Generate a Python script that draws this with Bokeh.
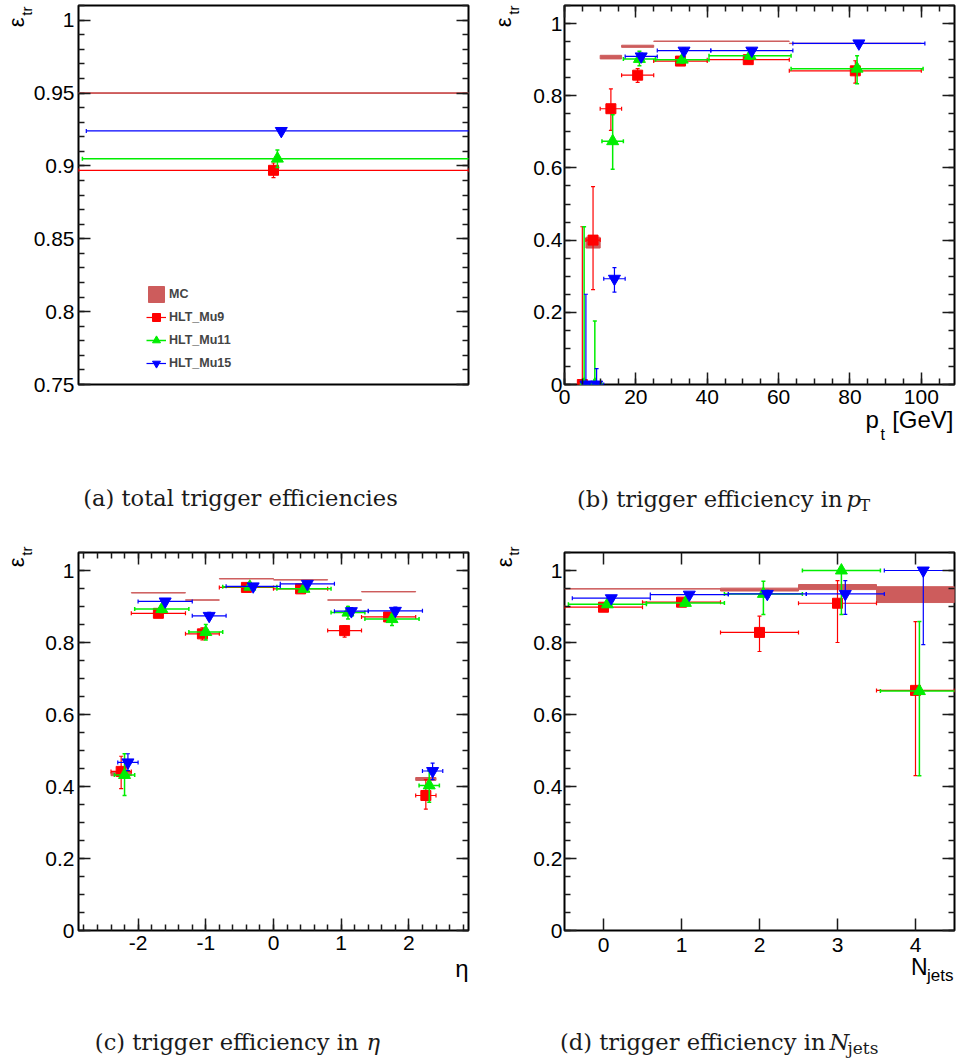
import numpy as np
from math import pi
from bokeh.plotting import figure
from bokeh.models import (Range1d, LinearAxis, SingleIntervalTicker, CustomJSTickFormatter,
                          ColumnDataSource, Legend, LegendItem, GridBox)
from bokeh.core.properties import value
from bokeh.embed import file_html
from bokeh.resources import INLINE

# ------------------------------------------------------------------ data
series_names = ["HLT_Mu9", "HLT_Mu11", "HLT_Mu15"]
series_colors = ["#ff0000", "#00ee00", "#0000ff"]
series_markers = ["square", "triangle", "inverted_triangle"]
mc_color = "#cd5c5c"

# (a) total trigger efficiency (one bin)
tot_lo = [0.0]
tot_hi = [1.0]
tot_shift = [0.0, 0.01, 0.02]
tot_mc = [0.950]
tot_mc_err = [0.0003]
tot_mu9 = [0.897]
tot_mu9_up = [0.005]
tot_mu9_dn = [0.005]
tot_mu11 = [0.905]
tot_mu11_up = [0.006]
tot_mu11_dn = [0.006]
tot_mu15 = [0.924]
tot_mu15_up = [0.002]
tot_mu15_dn = [0.002]

# (b) efficiency vs pT [GeV]
pt_lo = [4, 6, 10, 16, 25, 40, 63]
pt_hi = [6, 10, 16, 25, 40, 63, 100]
pt_shift = [0.0, 0.5, 1.0]
pt_mc_lo = [6, 10, 16, 25, 40, 63]
pt_mc_hi = [10, 16, 25, 40, 63, 100]
pt_mc = [0.393, 0.907, 0.937, 0.951, 0.951, 0.945]
pt_mc_err = [0.015, 0.005, 0.003, 0.0005, 0.0005, 0.0005]
pt_mu9 = [0.0, 0.400, 0.764, 0.857, 0.896, 0.900, 0.869]
pt_mu9_up = [0.437, 0.148, 0.055, 0.018, 0.008, 0.008, 0.028]
pt_mu9_dn = [0.0, 0.137, 0.060, 0.020, 0.008, 0.008, 0.034]
pt_mu11 = [0.0, 0.0, 0.674, 0.902, 0.900, 0.911, 0.875]
pt_mu11_up = [0.437, 0.176, 0.073, 0.021, 0.009, 0.009, 0.036]
pt_mu11_dn = [0.0, 0.0, 0.078, 0.019, 0.009, 0.009, 0.042]
pt_mu15 = [0.0, 0.0, 0.293, 0.909, 0.925, 0.925, 0.945]
pt_mu15_up = [0.250, 0.044, 0.031, 0.009, 0.007, 0.007, 0.007]
pt_mu15_dn = [0.0, 0.0, 0.037, 0.009, 0.007, 0.007, 0.007]

# (c) efficiency vs eta
eta_lo = [-2.4, -2.1, -1.3, -0.8, 0.0, 0.8, 1.3, 2.1]
eta_hi = [-2.1, -1.3, -0.8, 0.0, 0.8, 1.3, 2.1, 2.4]
eta_shift = [0.0, 0.05, 0.10]
eta_mc = [0.435, 0.938, 0.918, 0.977, 0.974, 0.918, 0.941, 0.421]
eta_mc_err = [0.005, 0.0005, 0.0005, 0.0005, 0.0005, 0.0005, 0.0005, 0.004]
eta_mu9 = [0.442, 0.881, 0.824, 0.953, 0.949, 0.833, 0.871, 0.375]
eta_mu9_up = [0.042, 0.008, 0.017, 0.006, 0.006, 0.014, 0.010, 0.044]
eta_mu9_dn = [0.048, 0.008, 0.017, 0.006, 0.006, 0.018, 0.010, 0.038]
eta_mu11 = [0.432, 0.893, 0.829, 0.955, 0.949, 0.883, 0.865, 0.403]
eta_mu11_up = [0.059, 0.010, 0.021, 0.006, 0.006, 0.017, 0.013, 0.041]
eta_mu11_dn = [0.057, 0.010, 0.022, 0.006, 0.006, 0.018, 0.018, 0.047]
eta_mu15 = [0.467, 0.914, 0.874, 0.956, 0.963, 0.887, 0.888, 0.443]
eta_mu15_up = [0.024, 0.008, 0.010, 0.005, 0.005, 0.010, 0.010, 0.022]
eta_mu15_dn = [0.023, 0.008, 0.010, 0.005, 0.005, 0.010, 0.010, 0.024]

# (d) efficiency vs number of jets
nj_lo = [-0.5, 0.5, 1.5, 2.5, 3.5]
nj_hi = [0.5, 1.5, 2.5, 3.5, 4.5]
nj_shift = [0.0, 0.05, 0.10]
nj_mc = [0.949, 0.949, 0.947, 0.954, 0.933]
nj_mc_err = [0.0005, 0.0005, 0.004, 0.007, 0.022]
nj_mu9 = [0.898, 0.912, 0.828, 0.909, 0.667]
nj_mu9_up = [0.006, 0.006, 0.045, 0.063, 0.191]
nj_mu9_dn = [0.006, 0.006, 0.053, 0.109, 0.237]
nj_mu11 = [0.906, 0.910, 0.935, 1.000, 0.665]
nj_mu11_up = [0.006, 0.008, 0.035, 0.0, 0.193]
nj_mu11_dn = [0.006, 0.008, 0.057, 0.122, 0.235]
nj_mu15 = [0.923, 0.933, 0.935, 0.935, 1.000]
nj_mu15_up = [0.005, 0.005, 0.010, 0.037, 0.0]
nj_mu15_dn = [0.005, 0.005, 0.010, 0.057, 0.206]

# ------------------------------------------------------------------ helpers
TICK_FONT = "Liberation Sans"
FMT_CODE = "return String(Number(tick.toFixed(4)));"


def style_axis(ax, ticker, labels, standoff=4, major=12, minor=6):
    ax.ticker = ticker
    ax.formatter = CustomJSTickFormatter(code=FMT_CODE)
    ax.major_tick_in = major
    ax.major_tick_out = 0
    ax.minor_tick_in = minor
    ax.minor_tick_out = 0
    ax.axis_line_color = None
    ax.major_tick_line_color = "#1a1a1a"
    ax.minor_tick_line_color = "#1a1a1a"
    ax.major_tick_line_width = 1.5
    ax.minor_tick_line_width = 1.5
    if labels:
        ax.major_label_text_font = TICK_FONT
        ax.major_label_text_font_size = "21px"
        ax.major_label_text_color = "black"
        ax.major_label_standoff = standoff
    else:
        ax.major_label_text_font_size = "0px"
        ax.major_label_standoff = 0


def make_fig(xr, yr, borders, xticker, yticker, show_x=True, ystd=4, xstd=5):
    l, r, t, b = borders
    p = figure(width=480, height=531, x_range=Range1d(*xr), y_range=Range1d(*yr),
               output_backend="svg", toolbar_location=None, tools="",
               min_border_left=l, min_border_right=r, min_border_top=t, min_border_bottom=b)
    p.xgrid.visible = False
    p.ygrid.visible = False
    p.outline_line_color = "black"
    p.outline_line_width = 2
    p.background_fill_color = "white"
    p.border_fill_color = "white"
    style_axis(p.yaxis[0], yticker, True, ystd)
    ry = LinearAxis()
    style_axis(ry, yticker, False)
    p.add_layout(ry, "right")
    if show_x:
        style_axis(p.xaxis[0], xticker, True, xstd)
        tx = LinearAxis()
        style_axis(tx, xticker, False)
        p.add_layout(tx, "above")
    else:
        p.xaxis[0].visible = False
    return p


def add_mc(p, lo, hi, val, err):
    val = np.asarray(val, float)
    err = np.asarray(err, float)
    src = ColumnDataSource(dict(left=lo, right=hi, bottom=val - err, top=val + err))
    return p.quad(left="left", right="right", bottom="bottom", top="top", source=src,
                  fill_color=mc_color, line_color=mc_color, line_width=1)


def add_series(p, lo, hi, shift, y, up, dn, color, marker, lw):
    lo = np.asarray(lo, float) + shift
    hi = np.asarray(hi, float) + shift
    y = np.asarray(y, float)
    src = ColumnDataSource(dict(x=(lo + hi) / 2, lo=lo, hi=hi, y=y,
                                top=y + np.asarray(up, float), bot=y - np.asarray(dn, float)))
    hr = p.segment(x0="lo", y0="y", x1="hi", y1="y", source=src, line_color=color, line_width=lw)
    p.segment(x0="x", y0="bot", x1="x", y1="top", source=src, line_color=color, line_width=lw)
    for cx, cy, ang in (("lo", "y", pi / 2), ("hi", "y", pi / 2), ("x", "top", 0.0), ("x", "bot", 0.0)):
        p.scatter(x=cx, y=cy, source=src, marker="dash", angle=ang, size=4,
                  line_color=color, line_width=lw)
    size = 10 if marker == "square" else 12
    mr = p.scatter(x="x", y="y", source=src, marker=marker, size=size,
                   fill_color=color, line_color=color)
    return hr, mr


def fill_panel(p, lo, hi, shifts, mc_lo, mc_hi, mc, mc_err, vals, ups, dns):
    mc_r = add_mc(p, mc_lo, mc_hi, mc, mc_err)
    out = []
    for k in range(3):
        out.append(add_series(p, lo, hi, shifts[k], vals[k], ups[k], dns[k],
                              series_colors[k], series_markers[k], 1.5 if k == 1 else 1.2))
    return mc_r, out


# ------------------------------------------------------------------ (a)
pa = make_fig((0.0, 1.0), (0.75, 1.0101), (78, 12, 5, 147), None,
              SingleIntervalTicker(interval=0.05, num_minor_ticks=5), show_x=False, ystd=4)
mc_r, ser = fill_panel(pa, tot_lo, tot_hi, tot_shift, tot_lo, tot_hi, tot_mc, tot_mc_err,
                       [tot_mu9, tot_mu11, tot_mu15], [tot_mu9_up, tot_mu11_up, tot_mu15_up],
                       [tot_mu9_dn, tot_mu11_dn, tot_mu15_dn])
items = [LegendItem(label="MC", renderers=[mc_r])]
for k in range(3):
    items.append(LegendItem(label=series_names[k], renderers=list(ser[k])))
leg = Legend(items=items, location=(68, 11), glyph_width=20, glyph_height=20, spacing=3,
             padding=0, margin=0, border_line_color=None, background_fill_alpha=0,
             label_text_font="Liberation Sans", label_text_font_style="bold",
             label_text_font_size="12.5px", label_standoff=3)
pa.add_layout(leg)

# ------------------------------------------------------------------ (b)
pb = make_fig((0.0, 109.3), (0.0, 1.05), (83, 6, 5, 147),
              SingleIntervalTicker(interval=20, num_minor_ticks=4),
              SingleIntervalTicker(interval=0.2, num_minor_ticks=4), ystd=2, xstd=5)
fill_panel(pb, pt_lo, pt_hi, pt_shift, pt_mc_lo, pt_mc_hi, pt_mc, pt_mc_err,
           [pt_mu9, pt_mu11, pt_mu15], [pt_mu9_up, pt_mu11_up, pt_mu15_up],
           [pt_mu9_dn, pt_mu11_dn, pt_mu15_dn])

# ------------------------------------------------------------------ (c)
pc = make_fig((-2.88, 2.88), (0.0, 1.05), (78, 12, 21, 132),
              SingleIntervalTicker(interval=1, num_minor_ticks=5),
              SingleIntervalTicker(interval=0.2, num_minor_ticks=4), ystd=4, xstd=5)
fill_panel(pc, eta_lo, eta_hi, eta_shift, eta_lo, eta_hi, eta_mc, eta_mc_err,
           [eta_mu9, eta_mu11, eta_mu15], [eta_mu9_up, eta_mu11_up, eta_mu15_up],
           [eta_mu9_dn, eta_mu11_dn, eta_mu15_dn])

# ------------------------------------------------------------------ (d)
pd_ = make_fig((-0.5, 4.5), (0.0, 1.05), (84, 6, 21, 132),
               SingleIntervalTicker(interval=1, num_minor_ticks=0),
               SingleIntervalTicker(interval=0.2, num_minor_ticks=4), ystd=2, xstd=7)
fill_panel(pd_, nj_lo, nj_hi, nj_shift, nj_lo, nj_hi, nj_mc, nj_mc_err,
           [nj_mu9, nj_mu11, nj_mu15], [nj_mu9_up, nj_mu11_up, nj_mu15_up],
           [nj_mu9_dn, nj_mu11_dn, nj_mu15_dn])

# ------------------------------------------------------------------ text overlay (page pixels)
ov = figure(width=960, height=1062, x_range=Range1d(0, 960), y_range=Range1d(1062, 0),
            output_backend="svg", toolbar_location=None, tools="",
            x_axis_type=None, y_axis_type=None,
            min_border_left=0, min_border_right=0, min_border_top=0, min_border_bottom=0)
ov.frame_align = False
ov.xgrid.visible = False
ov.ygrid.visible = False
ov.outline_line_color = None
ov.background_fill_color = None
ov.border_fill_color = None

SANS = "Liberation Sans"
SERIF = "DejaVu Serif"
CAPC = "#1a1a1a"
CS = 22.6
BASE_CORR = 0.27  # baseline correction, in em
# (text, x, y, size, font, style, align, angle)
texts = [
    # y-axis titles (rotated)
    ("ε", 22, 17, 22, SANS, "normal", "right", pi / 2),
    ("tr", 30, 6, 15, SANS, "normal", "right", pi / 2),
    ("ε", 509, 17, 22, SANS, "normal", "right", pi / 2),
    ("tr", 517, 5, 15, SANS, "normal", "right", pi / 2),
    ("ε", 22, 557, 22, SANS, "normal", "right", pi / 2),
    ("tr", 30, 546, 15, SANS, "normal", "right", pi / 2),
    ("ε", 510, 557, 22, SANS, "normal", "right", pi / 2),
    ("tr", 517, 546, 15, SANS, "normal", "right", pi / 2),
    # x-axis titles
    ("[GeV]", 953, 425, 24, SANS, "normal", "right", 0.0),
    ("p", 865, 425, 24, SANS, "normal", "left", 0.0),
    ("t", 880, 438, 16, SANS, "normal", "left", 0.0),
    ("η", 468, 974, 24, SANS, "normal", "right", 0.0),
    ("N", 927, 973, 23, SANS, "normal", "right", 0.0),
    ("jets", 953, 980, 17, SANS, "normal", "right", 0.0),
    # captions
    ("(a) total trigger efficiencies", 240, 504, CS, SERIF, "normal", "center", 0.0),
    ("(b) trigger efficiency in", 842, 505, CS, SERIF, "normal", "right", 0.0),
    ("p", 846, 505, CS, SERIF, "italic", "left", 0.0),
    ("T", 859, 509, 16, SERIF, "normal", "left", 0.0),
    ("(c) trigger efficiency in", 358, 1048, CS, SERIF, "normal", "right", 0.0),
    ("η", 366, 1048, CS, SERIF, "italic", "left", 0.0),
    ("(d) trigger efficiency in", 825, 1048, CS, SERIF, "normal", "right", 0.0),
    ("N", 829, 1048, CS, SERIF, "italic", "left", 0.0),
    ("jets", 847, 1052, 17, SERIF, "normal", "left", 0.0),
]
for t, x, y, s, f, st, al, an in texts:
    if an == 0.0:
        y = y - BASE_CORR * s
    else:
        x = x - BASE_CORR * s
    ov.text(x=[x], y=[y], text=[t], text_font=value(f), text_font_size=value(f"{s}px"),
            text_font_style=value(st), text_align=value(al), text_baseline=value("alphabetic"),
            angle=value(an), text_color=value(CAPC if f == SERIF else "black"))

grid = GridBox(children=[(pa, 0, 0), (pb, 0, 1), (pc, 1, 0), (pd_, 1, 1), (ov, 0, 0, 2, 2)],
               spacing=0)
open("out.html", "w").write(file_html(grid, INLINE))
